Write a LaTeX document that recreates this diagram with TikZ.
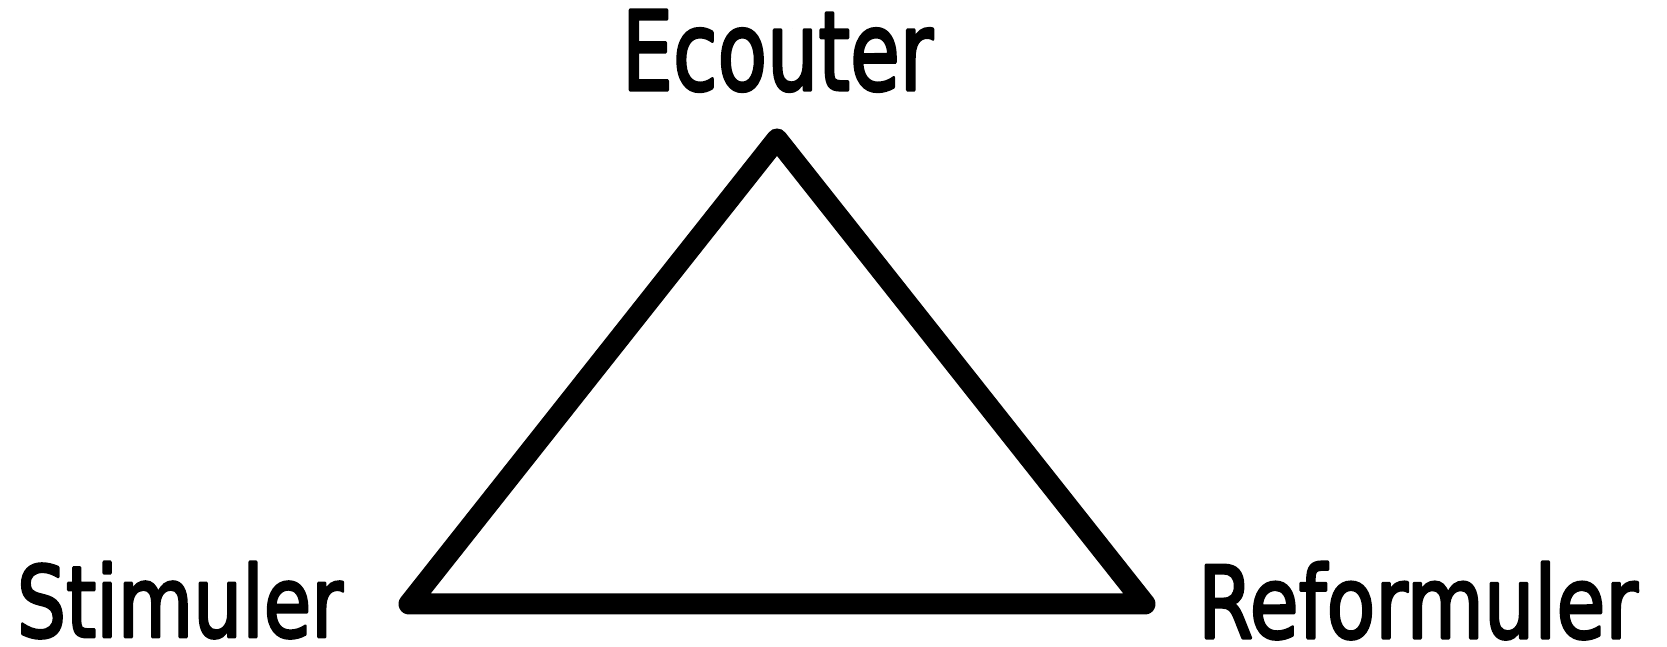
\documentclass[tikz,border=0pt]{standalone}
\usepackage{fontspec}
\setmainfont{DejaVu Sans}
\usepackage{graphicx}
\newcommand{\thicktext}[1]{\special{pdf:literal 2 Tr 0.3 w 1 j}#1\special{pdf:literal 0 Tr}}
\begin{document}
\begin{tikzpicture}[x=1pt,y=1pt,
  lbl/.style={inner sep=0pt,anchor=base,text=black},
  edge/.style={line width=21pt,line join=round,line cap=round,draw=black}]
\useasboundingbox (0,0) rectangle (1667,647);
\coordinate (top) at (777,508);
\coordinate (bl) at (409,43);
\coordinate (br) at (1145,43);
\draw[edge] (top) -- (br) -- (bl) -- cycle;
\node[lbl] (ecouter) at (777.5,557) {\resizebox{311pt}{80pt}{\thicktext{Ecouter}}};
\node[lbl] (stimuler) at (180,10) {\resizebox{326pt}{75pt}{\thicktext{Stimuler}}};
\node[lbl] (reformuler) at (1418,9) {\resizebox{440pt}{76pt}{\thicktext{Reformuler}}};
\end{tikzpicture}
\end{document}
